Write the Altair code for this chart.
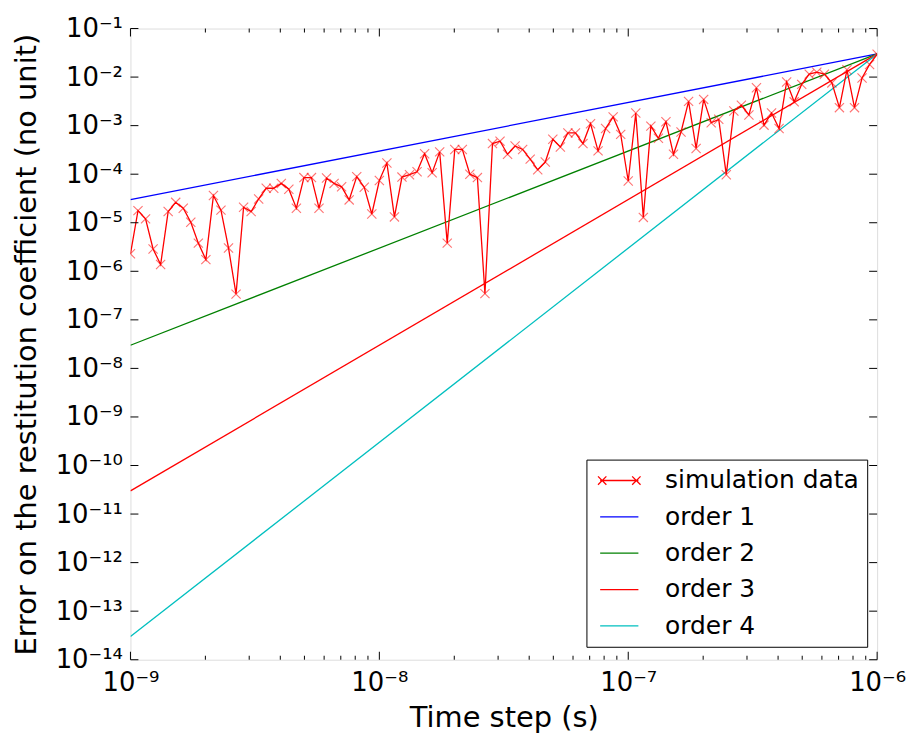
import altair as alt
import numpy as np
import pandas as pd

# ---------------- data ----------------
# time steps of the simulation (100 log-spaced values between 1e-9 and 1e-6 s)
time_steps = np.logspace(-9, -6, 100)
# log10 of the error
sim_log_error = [
    -5.64, -4.75, -4.92, -5.54, -5.86, -4.77, -4.58, -4.70, -4.99, -5.42,
    -5.76, -4.44, -4.74, -5.52, -6.47, -4.68, -4.77, -4.51, -4.29, -4.29,
    -4.19, -4.31, -4.70, -4.07, -4.07, -4.70, -4.08, -4.19, -4.26, -4.53,
    -4.05, -4.27, -4.82, -4.13, -3.77, -4.88, -4.06, -4.01, -3.95, -3.58,
    -3.97, -3.54, -5.42, -3.49, -3.49, -4.00, -4.07, -6.46, -3.37, -3.32,
    -3.59, -3.42, -3.49, -3.69, -3.91, -3.75, -3.28, -3.44, -3.15, -3.15,
    -3.37, -2.96, -3.52, -3.06, -2.82, -3.18, -4.14, -2.74, -4.89, -3.01,
    -3.26, -2.92, -3.59, -3.13, -2.50, -3.47, -2.46, -2.94, -2.87, -4.01,
    -2.70, -2.58, -2.78, -2.22, -2.99, -2.74, -3.06, -2.10, -2.51, -2.15,
    -1.94, -1.90, -1.94, -2.12, -2.63, -1.85, -2.63, -2.02, -1.74, -1.53,
]
order_names = ["order 1", "order 2", "order 3", "order 4"]
order_x = [1e-9, 1e-6]
order_left = [3e-5, 3e-8, 3e-11, 3e-14]
order_right = [3e-2, 3e-2, 3e-2, 3e-2]

series_names = ["simulation data"] + order_names
series_colors = ["#ff0000", "#0000ff", "#008000", "#ff0000", "#00bfbf"]

x_major = [1e-9, 1e-8, 1e-7, 1e-6]
x_minor = [m * d for d in [1e-9, 1e-8, 1e-7] for m in range(2, 10)]
y_major = [10.0 ** e for e in range(-14, 0)]

# ---------------- tables ----------------
sim_df = pd.DataFrame({
    "x": time_steps,
    "y": [10.0 ** v for v in sim_log_error],
    "series": "simulation data",
    "idx": range(len(time_steps)),
})
rows = []
for name, a, b in zip(order_names, order_left, order_right):
    rows.append({"x": order_x[0], "y": a, "series": name, "idx": 0})
    rows.append({"x": order_x[1], "y": b, "series": name, "idx": 1})
order_df = pd.DataFrame(rows)

W, H = 750, 634
FONT = "DejaVu Sans"

sup = "['⁰','¹','²','³','⁴','⁵','⁶','⁷','⁸','⁹']"
e = "round(log(datum.value)/LN10)"
label_expr = (f"'10' + ({e} < 0 ? '⁻' : '') + "
              f"(abs({e}) >= 10 ? {sup}[floor(abs({e})/10)] : '') + "
              f"{sup}[abs({e}) % 10]")

xscale = alt.Scale(type="log", domain=[1e-9, 1e-6], nice=False)
yscale = alt.Scale(type="log", domain=[1e-14, 1e-1], nice=False)

xaxis = alt.Axis(values=x_major, labelExpr=label_expr, ticks=False, domain=False,
                 grid=False, labelFlush=False, labelOverlap=False, labelFont=FONT,
                 labelFontSize=26, labelColor="black", labelPadding=10,
                 title="Time step (s)", titleFont=FONT, titleFontSize=29,
                 titleFontWeight="normal", titleColor="black", titlePadding=8)
yaxis = alt.Axis(values=y_major + [1e-1], labelExpr=label_expr, ticks=False, domain=False,
                 grid=False, labelFlush=False, labelOverlap=False, labelFont=FONT,
                 labelFontSize=26, labelColor="black", labelPadding=8,
                 title="Error on the restitution coefficient (no unit)", titleFont=FONT,
                 titleFontSize=29, titleFontWeight="normal", titleColor="black",
                 titlePadding=14)

cross_path = "M-1,-1L1,1M-1,1L1,-1"
legend_sim = ("M-1.6,0L1.6,0M-1.78,-0.35L-1.08,0.35M-1.78,0.35L-1.08,-0.35"
              "M1.08,-0.35L1.78,0.35M1.08,0.35L1.78,-0.35")
legend_line = "M-1.6,0L1.6,0"
series_shapes = [legend_sim] + [legend_line] * 4

legend = alt.Legend(
    title=None, orient="none", legendX=458, legendY=433,
    symbolSize=576, symbolStrokeWidth=1.3, symbolOffset=12,
    labelFont=FONT, labelFontSize=25, labelColor="black", labelOffset=33,
    padding=8, rowPadding=10.5, strokeColor="black", fillColor="white",
    cornerRadius=0, labelLimit=400, symbolOpacity=1,
)

# order lines: own stroke scale (domain differs from the legend's, so not merged)
orders = alt.Chart(order_df).mark_line(strokeWidth=1.3, clip=True).encode(
    x=alt.X("x:Q", scale=xscale, axis=xaxis),
    y=alt.Y("y:Q", scale=yscale, axis=yaxis),
    stroke=alt.Stroke("series:N",
                      scale=alt.Scale(domain=order_names, range=series_colors[1:]),
                      legend=None),
    detail="series:N",
    order="idx:Q",
)

sim_line = alt.Chart(sim_df).mark_line(strokeWidth=1.3, color=series_colors[0],
                                       clip=True).encode(
    x=alt.X("x:Q", scale=xscale),
    y=alt.Y("y:Q", scale=yscale),
    order="idx:Q",
)

sim_pts = alt.Chart(sim_df).mark_point(shape=cross_path, filled=False, size=85,
                                       strokeWidth=1.1, opacity=0.55,
                                       color=series_colors[0], clip=True).encode(
    x=alt.X("x:Q", scale=xscale),
    y=alt.Y("y:Q", scale=yscale),
)

# legend-only layer (no rows survive the filter; the scales carry the entries)
legend_layer = alt.Chart(order_df).mark_point(filled=False, strokeWidth=1.3).encode(
    x=alt.X("x:Q", scale=xscale),
    y=alt.Y("y:Q", scale=yscale),
    color=alt.Color("series:N", scale=alt.Scale(domain=series_names, range=series_colors),
                    legend=legend),
    shape=alt.Shape("series:N", scale=alt.Scale(domain=series_names, range=series_shapes),
                    legend=legend),
).transform_filter(alt.datum.x < 0)

# inside ticks
xmaj_df = pd.DataFrame({"x": x_major})
xmin_df = pd.DataFrame({"x": x_minor})
ymaj_df = pd.DataFrame({"y": y_major})

def xticks(df, length):
    bottom = alt.Chart(df).mark_rule(color="black", strokeWidth=1).encode(
        x=alt.X("x:Q", scale=xscale), y=alt.value(H), y2=alt.value(H - length))
    top = alt.Chart(df).mark_rule(color="black", strokeWidth=1).encode(
        x=alt.X("x:Q", scale=xscale), y=alt.value(0), y2=alt.value(length))
    return [bottom, top]

yt_left = alt.Chart(ymaj_df).mark_rule(color="black", strokeWidth=1).encode(
    y=alt.Y("y:Q", scale=yscale), x=alt.value(0), x2=alt.value(8))
yt_right = alt.Chart(ymaj_df).mark_rule(color="black", strokeWidth=1).encode(
    y=alt.Y("y:Q", scale=yscale), x=alt.value(W - 8), x2=alt.value(W))

chart = alt.layer(
    orders, sim_line, sim_pts, legend_layer,
    *xticks(xmaj_df, 8), *xticks(xmin_df, 4), yt_left, yt_right,
).properties(
    width=W, height=H,
    autosize=alt.AutoSizeParams(type="none"),
    padding={"left": 123, "top": 19, "right": 30, "bottom": 75},
).configure_view(
    stroke="black", strokeWidth=1.2,
).configure(background="white")

chart.save("out.html", embed_options={"renderer": "svg", "actions": False})
